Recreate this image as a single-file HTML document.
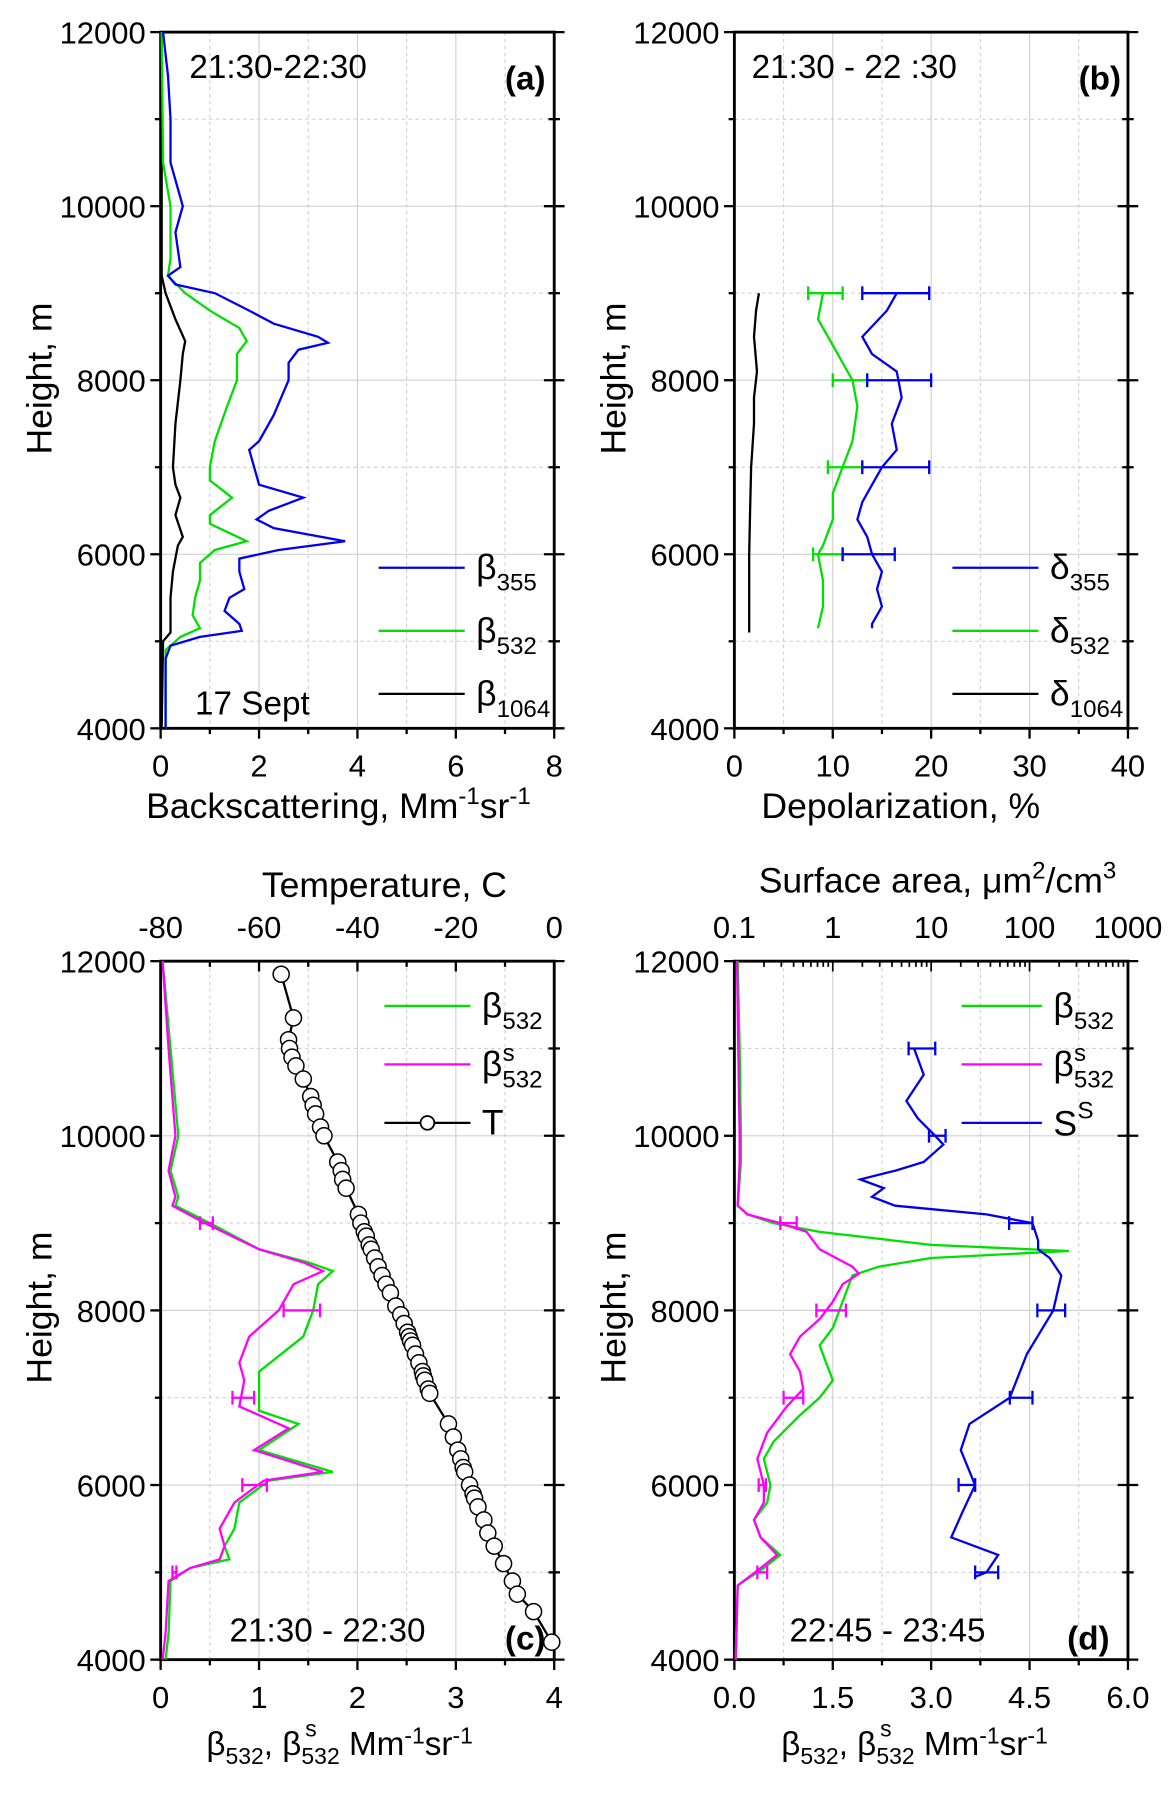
<!DOCTYPE html>
<html><head><meta charset="utf-8"><style>
html,body{margin:0;padding:0;background:#fff;}
svg{display:block;font-family:"Liberation Sans",Arial,sans-serif;}
</style></head><body>
<svg id="fig" width="1175" height="1795" viewBox="0 0 1024 1565" preserveAspectRatio="none" xmlns="http://www.w3.org/2000/svg"></svg>
<script>
// ---------- Panel (a) data ----------
const aH355 = [12000,11500,11000,10500,10300,10000,9700,9300,9200,9100,9000,8800,8650,8500,8430,8350,8200,8000,7800,7600,7300,7200,7000,6800,6650,6500,6400,6300,6150,6050,5950,5800,5600,5500,5350,5200,5120,5050,4950,4800,4000];
const aV355 = [0.05,0.15,0.2,0.2,0.3,0.45,0.3,0.4,0.15,0.3,1.1,1.8,2.3,3.2,3.4,2.8,2.6,2.6,2.45,2.3,2.0,1.8,1.9,2.0,2.9,2.2,1.95,2.3,3.75,2.4,1.6,1.6,1.7,1.4,1.3,1.6,1.65,0.8,0.2,0.1,0.1];
const aH532 = [12000,10500,10000,9400,9200,9000,8800,8600,8450,8300,8000,7700,7300,7000,6850,6650,6450,6350,6150,6050,5900,5700,5500,5300,5150,5050,4900,4000];
const aV532 = [0.02,0.05,0.2,0.2,0.15,0.5,1.0,1.6,1.75,1.55,1.55,1.35,1.1,1.0,1.0,1.45,1.0,1.0,1.75,1.1,0.8,0.8,0.7,0.65,0.8,0.4,0.1,0.1];
const aH1064 = [12000,9200,9000,8700,8450,8300,8000,7500,7000,6800,6650,6450,6200,6100,5800,5500,5100,5000,4000];
const aV1064 = [0.02,0.02,0.1,0.3,0.5,0.45,0.4,0.3,0.25,0.3,0.4,0.3,0.45,0.35,0.25,0.2,0.2,0.05,0.02];
// ---------- Panel (b) data ----------
const bH355 = [9000,8800,8500,8300,8100,7800,7500,7200,7000,6800,6600,6400,6200,6000,5800,5600,5400,5200,5150];
const bV355 = [16.5,15.5,13,14,16.5,17,16,16.5,15,14,13,12.5,13.5,14,15,14.5,15,14,14];
const bH532 = [9000,8700,8400,8000,7700,7300,7000,6700,6400,6100,6000,5700,5400,5150];
const bV532 = [9,8.5,10,12,12.5,12,11,10,10,9,8.5,9,9,8.5];
const bH1064 = [9000,8800,8500,8100,7800,7500,7000,6500,6000,5500,5100];
const bV1064 = [2.5,2.2,2.0,2.3,2.0,2.0,1.7,1.6,1.5,1.5,1.5];
const bErrH = [9000,8000,7000,6000];
const bErr355Lo = [13,13.5,13,11];
const bErr355Hi = [19.8,20,19.8,16.3];
const bErr532Lo = [7.5,10,9.5,8];
const bErr532Hi = [11,13.5,13,11];
// ---------- Panel (c) data ----------
const cH532 = [12000,11000,10000,9600,9300,9200,9000,8700,8550,8450,8300,8000,7700,7300,7100,6850,6700,6550,6400,6150,6050,5800,5500,5300,5150,5050,4900,4300,4000];
const cV532 = [0.02,0.1,0.18,0.1,0.18,0.15,0.5,1.0,1.5,1.75,1.6,1.55,1.45,1.0,1.0,1.0,1.4,1.2,1.0,1.75,1.1,0.8,0.75,0.65,0.7,0.3,0.1,0.08,0.05];
const cHs = [12000,11000,10000,9600,9300,9200,9000,8700,8550,8450,8300,8000,7700,7400,7200,6900,6650,6400,6150,6050,5800,5500,5300,5150,5050,4900,4300,4000];
const cVs = [0.02,0.08,0.15,0.08,0.15,0.12,0.45,1.0,1.45,1.65,1.35,1.2,0.9,0.8,0.85,0.8,1.3,0.95,1.65,1.05,0.75,0.6,0.65,0.6,0.3,0.08,0.05,0.02];
const cErrH = [9000,8000,7000,6000,5000];
const cErrLo = [0.4,1.25,0.73,0.83,0.12];
const cErrHi = [0.53,1.62,0.95,1.08,0.16];
const cTH = [11850,11350,11100,11000,10900,10800,10650,10450,10350,10250,10100,10000,9700,9600,9500,9400,9100,9000,8900,8850,8750,8700,8600,8500,8400,8300,8200,8050,7950,7850,7750,7700,7650,7600,7500,7400,7300,7250,7200,7100,7050,6700,6550,6400,6300,6200,6150,6000,5900,5850,5750,5600,5450,5300,5100,4900,4750,4550,4200];
const cTV = [-55.5,-53,-54,-53.8,-53.3,-52.5,-51,-49.5,-49,-48.5,-47.5,-46.8,-44,-43.3,-43,-42.3,-39.8,-39.3,-38.6,-38.2,-37.6,-37.2,-36.5,-35.8,-35,-34.2,-33.3,-32.2,-31.2,-30.5,-29.8,-29.5,-29.2,-28.8,-28.2,-27.5,-26.8,-26.6,-26.3,-25.6,-25.3,-21.5,-20.5,-19.6,-19,-18.5,-18.2,-17.2,-16.5,-16.2,-15.5,-14.3,-13.5,-12.2,-10.3,-8.5,-7.5,-4.2,-0.5];
// ---------- Panel (d) data ----------
const dH532 = [12000,11000,10000,9700,9200,9100,9000,8900,8750,8680,8600,8500,8400,8300,8000,7800,7600,7400,7200,7000,6800,6500,6300,6000,5800,5600,5400,5200,5050,4850,4000];
const dV532 = [0.05,0.08,0.1,0.1,0.05,0.2,0.6,1.3,3.0,5.1,3.0,2.2,1.8,1.75,1.6,1.5,1.3,1.4,1.5,1.3,1.0,0.6,0.45,0.55,0.5,0.3,0.4,0.7,0.45,0.05,0.02];
const dHs = [12000,11000,10000,9700,9200,9100,9000,8900,8800,8700,8500,8420,8300,8100,7900,7700,7500,7300,7100,6900,6600,6300,6000,5800,5600,5400,5200,5050,4850,4000];
const dVs = [0.04,0.06,0.08,0.08,0.05,0.2,0.7,1.1,1.2,1.3,1.8,1.9,1.65,1.5,1.3,1.0,0.85,1.0,1.05,0.8,0.5,0.35,0.45,0.45,0.3,0.4,0.65,0.4,0.05,0.02];
const dSH = [11000,10700,10400,10200,10000,9900,9700,9600,9500,9400,9300,9200,9100,9000,8800,8700,8600,8400,8000,7500,7000,6700,6400,6000,5700,5400,5200,5000,4950];
const dSV = [6.7,8.4,5.6,7.3,11,13.3,8.4,4.3,1.9,3.3,2.5,4.3,36.5,107,122,122,160,210,174,94,63,24.5,20,28,21,16,48,36.5,28];
const dErrH = [11000,10000,9000,8000,7000,6000,5000];
const dSErrLo = [5.9,9.5,62,120,63,19,28];
const dSErrHi = [11,14,107,230,107,28,48];
const dBErrH = [9000,8000,7000,6000,5000];
const dSErrBLo = [0.7,1.25,0.75,0.37,0.35];
const dSErrBHi = [0.95,1.7,1.05,0.48,0.5];

const NS='http://www.w3.org/2000/svg';
const svg=document.getElementById('fig');
const TICKFS=27, TITLEFS=31;
function el(tag,attrs,parent,text){const e=document.createElementNS(NS,tag);for(const k in attrs)e.setAttribute(k,attrs[k]);if(text!==undefined)e.textContent=text;(parent||svg).appendChild(e);return e;}

function makePanel(px0,py0,w,h,xmin,xmax){
  const ymin=4000,ymax=12000;
  return {
    x:v=>px0+(v-xmin)/(xmax-xmin)*w,
    y:v=>py0+h-(v-ymin)/(ymax-ymin)*h, px0,py0,w,h};
}
function frame(g,P,xticks,xlabels,minorX,bottomTicks){
  const gg=el('g',{},g);
  
  
  for(let hh=5000;hh<12000;hh+=1000){el('line',{x1:P.px0,x2:P.px0+P.w,y1:P.y(hh),y2:P.y(hh),stroke:'#d0d0d0','stroke-width':1,'stroke-dasharray':hh%2000?'3,3':'none'},gg);}
  minorX.forEach((xp,i)=>{el('line',{x1:xp,x2:xp,y1:P.py0,y2:P.py0+P.h,stroke:'#d0d0d0','stroke-width':1,'stroke-dasharray':i%2?'none':'3,3'},gg);});
  const ya=el('g',{},g);
  
  
  for(let hh=4000;hh<=12000;hh+=1000){
    const yy=P.y(hh);const major=hh%2000==0;const L=major?9:5;
    el('line',{x1:P.px0-L,x2:P.px0,y1:yy,y2:yy,stroke:'#000','stroke-width':2},ya);
    el('line',{x1:P.px0+P.w-L,x2:P.px0+P.w+L,y1:yy,y2:yy,stroke:'#000','stroke-width':2},ya);
    if(major)el('text',{x:P.px0-13,y:yy+10,'text-anchor':'end','font-size':TICKFS},ya,String(hh));
  }
  const xa=el('g',{},g);
  
  
  bottomTicks.forEach(t=>{el('line',{x1:t[0],x2:t[0],y1:P.py0+P.h,y2:P.py0+P.h+(t[1]?9:5),stroke:'#000','stroke-width':2},xa);});
  xticks.forEach((xp,i)=>{el('text',{x:xp,y:P.py0+P.h+42,'text-anchor':'middle','font-size':TICKFS},xa,xlabels[i]);});
  const r=el('rect',{x:P.px0,y:P.py0,width:P.w,height:P.h,fill:'none',stroke:'#000','stroke-width':2.5},g);
  
  
}
function line(g,P,hs,vs,color,name,xf){
  const pts=hs.map((hh,i)=>(xf?xf(vs[i]):P.x(vs[i])).toFixed(1)+','+P.y(hh).toFixed(1)).join(' ');
  const p=el('polyline',{points:pts,fill:'none',stroke:color,'stroke-width':2},g);
  
  
}
function errbars(g,P,hs,lo,hi,color,name,xf){
  const gg=el('g',{},g);
  
  
  hs.forEach((hh,i)=>{const yy=P.y(hh);const a=xf(lo[i]),b=xf(hi[i]);
    el('line',{x1:a,x2:b,y1:yy,y2:yy,stroke:color,'stroke-width':2},gg);
    el('line',{x1:a,x2:a,y1:yy-6,y2:yy+6,stroke:color,'stroke-width':2},gg);
    el('line',{x1:b,x2:b,y1:yy-6,y2:yy+6,stroke:color,'stroke-width':2},gg);});
}
function legend(g,x1,x2,y,color,base,sub,sup,name,marker){
  const gg=el('g',{},g);
  
  
  el('line',{x1,x2,y1:y,y2:y,stroke:color,'stroke-width':2},gg);
  if(marker)el('circle',{cx:(x1+x2)/2,cy:y,r:6,fill:'#fff',stroke:'#000','stroke-width':1.5},gg);
  const t=el('text',{x:x2+10,y:y+10,'font-size':31},gg,base);
  if(sub){el('tspan',{'font-size':21,dy:10},t,sub);}
  if(sup){el('text',{x:x2+28,y:y-3,'font-size':21},gg,sup);}
}
function ytitle(g,x,y){const t=el('text',{x,y,'font-size':TITLEFS,'text-anchor':'middle',transform:`rotate(-90 ${x} ${y})`},g,'Height, m');}
function txt(g,x,y,s,name,extra){const t=el('text',Object.assign({x,y,'font-size':29},extra||{}),g,s);return t;}
function betaTitle(g,cx,y){
  const t=el('text',{x:cx,y,'font-size':29,'text-anchor':'middle'},g);
  
  
  el('tspan',{},t,'β');el('tspan',{'font-size':20,dy:8},t,'532');el('tspan',{dy:-8},t,', β');
  el('tspan',{'font-size':20,dy:8},t,'532');el('tspan',{dy:-8},t,' Mm');el('tspan',{'font-size':20,dy:-10},t,'-1');el('tspan',{dy:10},t,'sr');el('tspan',{'font-size':20,dy:-10},t,'-1');
  el('text',{x:cx-30,y:y-16,'font-size':20},g,'s');
}

// ===== Panel a =====
(function(){
  const g=el('g',{});
  const P=makePanel(140,28,343,607,0,8);
  const ticks=[0,2,4,6,8];
  frame(g,P,ticks.map(P.x),ticks.map(String),[1,2,3,4,5,6,7].map(P.x),[0,1,2,3,4,5,6,7,8].map(v=>[P.x(v),v%2==0]));
  line(g,P,aH1064,aV1064,'#000','beta-1064-line');
  line(g,P,aH532,aV532,'#00e000','beta-532-line');
  line(g,P,aH355,aV355,'#0000ee','beta-355-line');
  legend(g,330,405,495,'#0000ee','β','355',null,'legend-beta-355');
  legend(g,330,405,550,'#00e000','β','532',null,'legend-beta-532');
  legend(g,330,405,605,'#000','β','1064',null,'legend-beta-1064');
  txt(g,165,68,'21:30-22:30','time-label-a');
  txt(g,440,78,'(a)','panel-label-a',{'font-weight':'bold'});
  txt(g,170,623,'17 Sept','date-label');
  ytitle(g,45,330);
  const t=el('text',{x:295,y:713,'font-size':TITLEFS,'text-anchor':'middle'},g);
  el('tspan',{},t,'Backscattering, Mm');el('tspan',{'font-size':21,dy:-12},t,'-1');el('tspan',{dy:12},t,'sr');el('tspan',{'font-size':21,dy:-12},t,'-1');
})();
// ===== Panel b =====
(function(){
  const g=el('g',{});
  const P=makePanel(640,28,343,607,0,40);
  const ticks=[0,10,20,30,40];
  frame(g,P,ticks.map(P.x),ticks.map(String),[5,10,15,20,25,30,35].map(P.x),[0,5,10,15,20,25,30,35,40].map(v=>[P.x(v),v%10==0]));
  line(g,P,bH1064,bV1064,'#000','delta-1064-line');
  line(g,P,bH532,bV532,'#00e000','delta-532-line');
  line(g,P,bH355,bV355,'#0000ee','delta-355-line');
  errbars(g,P,bErrH,bErr532Lo,bErr532Hi,'#00e000','delta-532-errorbars',P.x);
  errbars(g,P,bErrH,bErr355Lo,bErr355Hi,'#0000ee','delta-355-errorbars',P.x);
  legend(g,830,905,495,'#0000ee','δ','355',null,'legend-delta-355');
  legend(g,830,905,550,'#00e000','δ','532',null,'legend-delta-532');
  legend(g,830,905,605,'#000','δ','1064',null,'legend-delta-1064');
  txt(g,655,68,'21:30 - 22 :30','time-label-b');
  txt(g,940,78,'(b)','panel-label-b',{'font-weight':'bold'});
  ytitle(g,545,330);
  txt(g,785,713,'Depolarization, %','x-axis-title',{'font-size':TITLEFS,'text-anchor':'middle'});
})();
// ===== Panel c =====
(function(){
  const g=el('g',{});
  const P=makePanel(140,838,343,609,0,4);
  const ticks=[0,1,2,3,4];
  frame(g,P,ticks.map(P.x),ticks.map(String),[0.5,1,1.5,2,2.5,3,3.5].map(P.x),[0,0.5,1,1.5,2,2.5,3,3.5,4].map(v=>[P.x(v),v%1==0]));
  const tx=v=>P.px0+(v+80)/80*P.w;
  const top=el('g',{},g);
  [-80,-70,-60,-50,-40,-30,-20,-10,0].forEach(v=>{el('line',{x1:tx(v),x2:tx(v),y1:P.py0,y2:P.py0+(v%20?5:9),stroke:'#000','stroke-width':2},top);});
  [-80,-60,-40,-20,0].forEach(v=>{el('text',{x:tx(v),y:P.py0-20,'text-anchor':'middle','font-size':TICKFS},top,String(v));});
  txt(g,335,782,'Temperature, C','top-axis-title',{'font-size':TITLEFS,'text-anchor':'middle'});
  line(g,P,cH532,cV532,'#00e000','beta-532-line');
  line(g,P,cHs,cVs,'#ff00ff','beta-s-532-line');
  errbars(g,P,cErrH,cErrLo,cErrHi,'#ff00ff','beta-s-errorbars',P.x);
  line(g,P,cTH,cTV,'#000','temperature-line',tx);
  const cg=el('g',{},g);
  cTH.forEach((hh,i)=>{el('circle',{cx:tx(cTV[i]),cy:P.y(hh),r:7,fill:'#fff',stroke:'#000','stroke-width':1.3},cg);});
  legend(g,335,410,877,'#00e000','β','532',null,'legend-beta-532');
  legend(g,335,410,928,'#ff00ff','β','532','s','legend-beta-s-532');
  legend(g,335,410,979,'#000','T',null,null,'legend-temperature',true);
  txt(g,200,1431,'21:30 - 22:30','time-label-c');
  txt(g,440,1438,'(c)','panel-label-c',{'font-weight':'bold'});
  ytitle(g,45,1140);
  betaTitle(g,296,1530);
})();
// ===== Panel d =====
(function(){
  const g=el('g',{});
  const P=makePanel(640,838,343,609,0,6);
  const ticks=[0,1.5,3,4.5,6];
  frame(g,P,ticks.map(P.x),ticks.map(v=>v.toFixed(1)),[0.75,1.5,2.25,3,3.75,4.5,5.25].map(P.x),[0,0.75,1.5,2.25,3,3.75,4.5,5.25,6].map(v=>[P.x(v),(v*2)%3==0]));
  const lx=v=>P.px0+(Math.log10(v)+1)/4*P.w;
  const top=el('g',{},g);
  for(let d=-1;d<3;d++){for(let m=1;m<10;m++){const v=m*Math.pow(10,d);el('line',{x1:lx(v),x2:lx(v),y1:P.py0,y2:P.py0+(m==1?9:5),stroke:'#000','stroke-width':1.5},top);}}
  el('line',{x1:lx(1000),x2:lx(1000),y1:P.py0,y2:P.py0+9,stroke:'#000','stroke-width':1.5},top);
  ['0.1','1','10','100','1000'].forEach(s=>{el('text',{x:lx(+s),y:P.py0-20,'text-anchor':'middle','font-size':TICKFS},top,s);});
  const tt=el('text',{x:817,y:778,'font-size':TITLEFS,'text-anchor':'middle'},g);
  el('tspan',{},tt,'Surface area, μm');el('tspan',{'font-size':21,dy:-12},tt,'2');el('tspan',{dy:12},tt,'/cm');el('tspan',{'font-size':21,dy:-12},tt,'3');
  line(g,P,dH532,dV532,'#00e000','beta-532-line');
  line(g,P,dHs,dVs,'#ff00ff','beta-s-532-line');
  errbars(g,P,dBErrH,dSErrBLo,dSErrBHi,'#ff00ff','beta-s-errorbars',P.x);
  line(g,P,dSH,dSV,'#0000ee','surface-area-line',lx);
  errbars(g,P,dErrH,dSErrLo,dSErrHi,'#0000ee','surface-area-errorbars',lx);
  legend(g,838,908,877,'#00e000','β','532',null,'legend-beta-532');
  legend(g,838,908,928,'#ff00ff','β','532','s','legend-beta-s-532');
  const lg=el('g',{},g);
  el('line',{x1:838,x2:908,y1:979,y2:979,stroke:'#0000ee','stroke-width':2},lg);
  el('text',{x:918,y:990,'font-size':31},lg,'S');el('text',{x:939,y:975,'font-size':21},lg,'S');
  txt(g,688,1431,'22:45 - 23:45','time-label-d');
  txt(g,930,1438,'(d)','panel-label-d',{'font-weight':'bold'});
  ytitle(g,545,1140);
  betaTitle(g,797,1530);
})();
</script>
</body></html>
